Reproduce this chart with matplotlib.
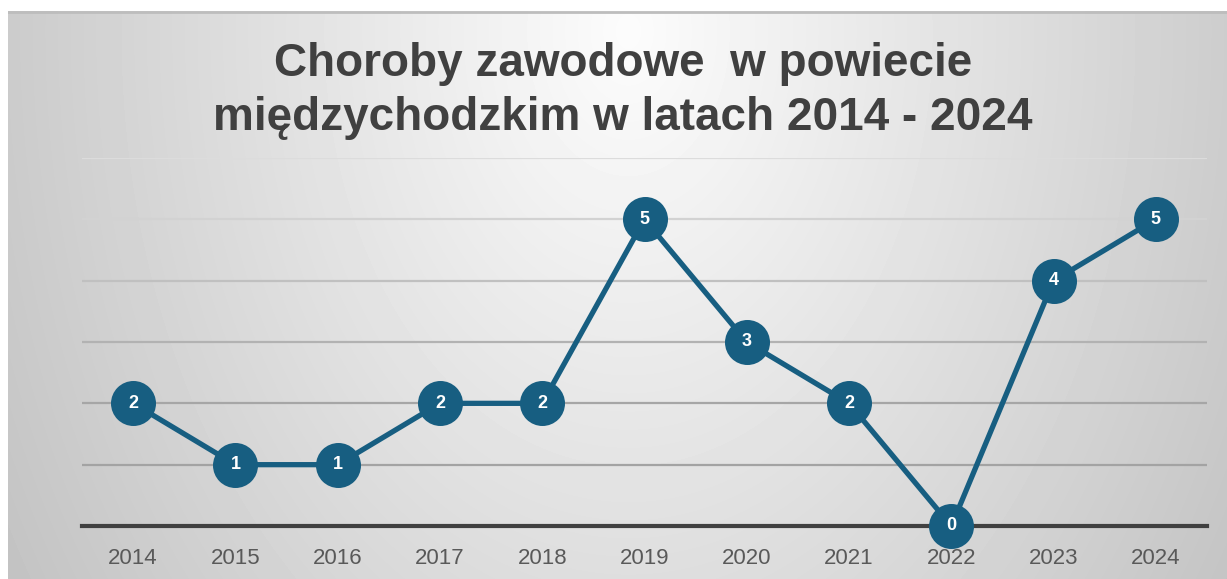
import matplotlib.pyplot as plt
import numpy as np

# ── Data ───────────────────────────────────────────────────────────────────
years = ['2014', '2015', '2016', '2017', '2018', '2019',
         '2020', '2021', '2022', '2023', '2024']
cases = [2, 1, 1, 2, 2, 5, 3, 2, 0, 4, 5]
grid_levels = [1, 2, 3, 4, 5, 6]

title = 'Choroby zawodowe  w powiecie\nmiędzychodzkim w latach 2014 - 2024'

W, H = 1227, 579
LINE = '#175E81'

fig = plt.figure(figsize=(W / 100, H / 100), dpi=100)
fig.patch.set_facecolor('white')

# ── Background gradient (radial, light at top centre) ────────────────────
bg = fig.add_axes([8 / W, 0, 1 - 8 / W, (H - 11) / H])
yy, xx = np.mgrid[0:568, 0:1219]
r = np.sqrt(((xx - 620) / 700.0) ** 2 + ((yy - 20) / 1000.0) ** 2)
shade = np.clip(252 - 55 * r, 190, 252) / 255.0
bg.imshow(shade, cmap='gray', vmin=0, vmax=1, aspect='auto',
          interpolation='bilinear')
bg.axhline(0, color='#BDBDBD', lw=2)
bg.axis('off')

fig.text(623 / W, 1 - 91 / H, title, ha='center', va='center',
         fontsize=33, fontweight='bold', color='#404040',
         family='Liberation Sans', linespacing=1.32)

# ── Main axes ──────────────────────────────────────────────────────────────
ax = fig.add_axes([82 / W, (H - 526) / H, 1125 / W, 368 / H])
ax.patch.set_alpha(0)
x = np.arange(len(years))

grid_cols = ['#A3A3A3', '#A6A6A6', '#B2B2B2', '#C0C0C0', '#D2D2D2', '#DCDCDC']
for lvl, c in zip(grid_levels, grid_cols):
    ax.axhline(lvl, color=c, lw=1.6, zorder=1)
ax.axhline(0, color='#404040', lw=3, zorder=2, clip_on=False)

ax.plot(x, cases, color=LINE, lw=3.8, zorder=3, solid_capstyle='round',
        clip_on=False)
ax.scatter(x, cases, s=1050, color=LINE, zorder=4, linewidths=0,
           clip_on=False)
for xi, v in zip(x, cases):
    ax.text(xi, v, str(v), ha='center', va='center', color='white',
            fontsize=13, fontweight='bold', family='Liberation Sans',
            zorder=5)

ax.set_xlim(-0.5, len(years) - 0.5)
ax.set_ylim(0, 6)
ax.set_xticks(x)
ax.set_xticklabels(years, fontsize=16, color='#595959',
                   family='Liberation Sans')
ax.set_yticks([])
ax.tick_params(axis='x', length=0, pad=16)
for s in ax.spines.values():
    s.set_visible(False)

plt.savefig('out.png', dpi=100)
plt.close()
